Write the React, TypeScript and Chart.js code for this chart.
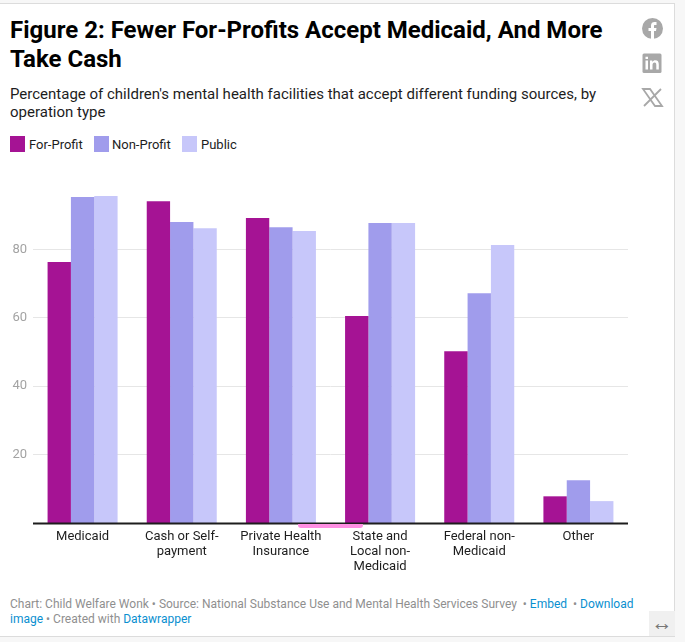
import React, { useEffect, useRef } from "react";
import { Chart, registerables } from "chart.js";

Chart.register(...registerables);

const categories = [
  ["Medicaid"],
  ["Cash or Self-", "payment"],
  ["Private Health", "Insurance"],
  ["State and", "Local non-", "Medicaid"],
  ["Federal non-", "Medicaid"],
  ["Other"],
];
const forProfit = [76.3, 94.1, 89.2, 60.5, 50.2, 7.8];
const nonProfit = [95.3, 88, 86.5, 87.7, 67.2, 12.5];
const publicFac = [95.6, 86.2, 85.4, 87.7, 81.3, 6.4];
const yTicks = [20, 40, 60, 80];
const FONT = "Roboto";

const abs = (x: number, y: number, extra: React.CSSProperties = {}): React.CSSProperties => ({
  position: "absolute",
  left: x,
  top: y,
  ...extra,
});

const legend = [
  { label: "For-Profit", color: "#A51394", box: 10, text: 29 },
  { label: "Non-Profit", color: "#A09CEC", box: 94, text: 112 },
  { label: "Public", color: "#C7C7FA", box: 182, text: 201 },
];

export default function App() {
  const ref = useRef<HTMLCanvasElement>(null);
  useEffect(() => {
    const chart = new Chart(ref.current!, {
      type: "bar",
      data: {
        labels: categories,
        datasets: [
          { label: "For-Profit", data: forProfit, backgroundColor: "#A51394" },
          { label: "Non-Profit", data: nonProfit, backgroundColor: "#A09CEC" },
          { label: "Public", data: publicFac, backgroundColor: "#C7C7FA" },
        ],
      },
      options: {
        animation: false,
        responsive: false,
        events: [],
        layout: { padding: { top: 10, left: 0, right: 0, bottom: 0 } },
        datasets: { bar: { barPercentage: 1, categoryPercentage: 0.706 } },
        plugins: { legend: { display: false }, tooltip: { enabled: false }, title: { display: false } },
        scales: {
          x: {
            position: "bottom",
            grid: { display: false, drawTicks: false },
            border: { display: false },
            ticks: {
              autoSkip: false,
              maxRotation: 0,
              minRotation: 0,
              padding: 6,
              color: "#1d1d1d",
              font: { family: FONT, size: 13, lineHeight: 1.15 },
            },
            afterFit: (s: any) => {
              s.height = 67;
              s.paddingLeft = 0;
              s.paddingRight = 0;
            },
          },
          y: {
            min: 0,
            max: 100,
            afterBuildTicks: (s: any) => {
              s.ticks = yTicks.map((value) => ({ value }));
            },
            grid: { color: "#e6e6e6", lineWidth: 1, drawTicks: false },
            border: { display: false },
            ticks: {
              mirror: false,
              padding: 6,
              color: "#a3a3a3",
              font: { family: FONT, size: 13 },
            },
            afterFit: (s: any) => {
              s.width = 33;
              s.paddingTop = 0;
              s.paddingBottom = 0;
            },
          },
        },
      },
      plugins: [
        {
          id: "baseline",
          afterDatasetsDraw(c: any) {
            const { ctx, chartArea, scales } = c;
            const y = scales.y.getPixelForValue(0);
            ctx.save();
            ctx.fillStyle = "#1d1d1d";
            ctx.fillRect(chartArea.left, Math.round(y) - 0.5, chartArea.right - chartArea.left, 2);
            ctx.restore();
          },
        },
      ],
    } as any);
    return () => chart.destroy();
  }, []);

  return (
    <div style={abs(0, 0, { width: 685, height: 642, background: "#f7f7f7", overflow: "hidden", fontFamily: FONT })}>
      <div style={abs(-1, 3, { width: 676, height: 634, background: "#fff", border: "1px solid #dcdcdc", boxSizing: "border-box" })} />
      <div style={abs(10, 16, { width: 620, fontSize: 24, lineHeight: "29px", fontWeight: 700, color: "#000" })}>
        Figure 2: Fewer For-Profits Accept Medicaid, And More Take Cash
      </div>
      <div style={abs(10, 84.5, { width: 620, fontSize: 15, lineHeight: "18.5px", color: "#1d1d1d" })}>
        Percentage of children's mental health facilities that accept different funding sources, by operation type
      </div>
      {legend.map((l) => (
        <React.Fragment key={l.label}>
          <div style={abs(l.box, 136, { width: 15, height: 16, background: l.color })} />
          <div style={abs(l.text, 137, { fontSize: 13, lineHeight: "16px", color: "#1d1d1d" })}>{l.label}</div>
        </React.Fragment>
      ))}
      <canvas ref={ref} width={628} height={419} style={abs(0, 171, { display: "block" })} />
      <div style={abs(298, 523.5, { width: 65, height: 4, background: "#FF8FE3", borderRadius: "0 0 3px 3px" })} />
      <div style={abs(10, 597, { width: 630, fontSize: 12, lineHeight: "15px", color: "#8f8f8f" })}>
        Chart: Child Welfare Wonk • Source: National Substance Use and Mental Health Services Survey &nbsp;• <span style={{ color: "#0a8fd0" }}>Embed</span> &nbsp;• <span style={{ color: "#0a8fd0" }}>Download image</span> • Created with <span style={{ color: "#0a8fd0" }}>Datawrapper</span>
      </div>
      <div style={abs(649, 611, { width: 26, height: 25, background: "#f0f0f0", color: "#777", fontSize: 21, lineHeight: "25px", textAlign: "center" })}>↔</div>
      <svg style={abs(641, 17)} width="24" height="96" viewBox="0 0 24 96">
        <circle cx="11.5" cy="11.5" r="10.5" fill="#a8a8a8" />
        <path d="M10 22 V14 H7.5 V11 H10 V8.5 C10 6 11.5 5 13.5 5 H15.5 V8 H14 C13 8 13 8.5 13 9.2 V11 H15.5 L15 14 H13 V22 Z" fill="#fff" />
        <rect x="1.5" y="36.5" width="19" height="19.5" rx="1.5" fill="#a8a8a8" />
        <path d="M4.5 43.5 H7 V52.5 H4.5 Z M4.5 39.8 H7 V42 H4.5 Z M9 43.5 H11.3 V45 C12 43.8 13 43.3 14.3 43.3 C16.8 43.3 17.8 44.8 17.8 47.5 V52.5 H15.3 V48 C15.3 46.5 15 45.5 13.6 45.5 C12.2 45.5 11.5 46.5 11.5 48 V52.5 H9 Z" fill="#fff" />
        <path d="M2 72 L9 72 L21 89 L14 89 Z M20 72 L3 89" fill="none" stroke="#a8a8a8" strokeWidth="1.8" />
      </svg>
    </div>
  );
}
